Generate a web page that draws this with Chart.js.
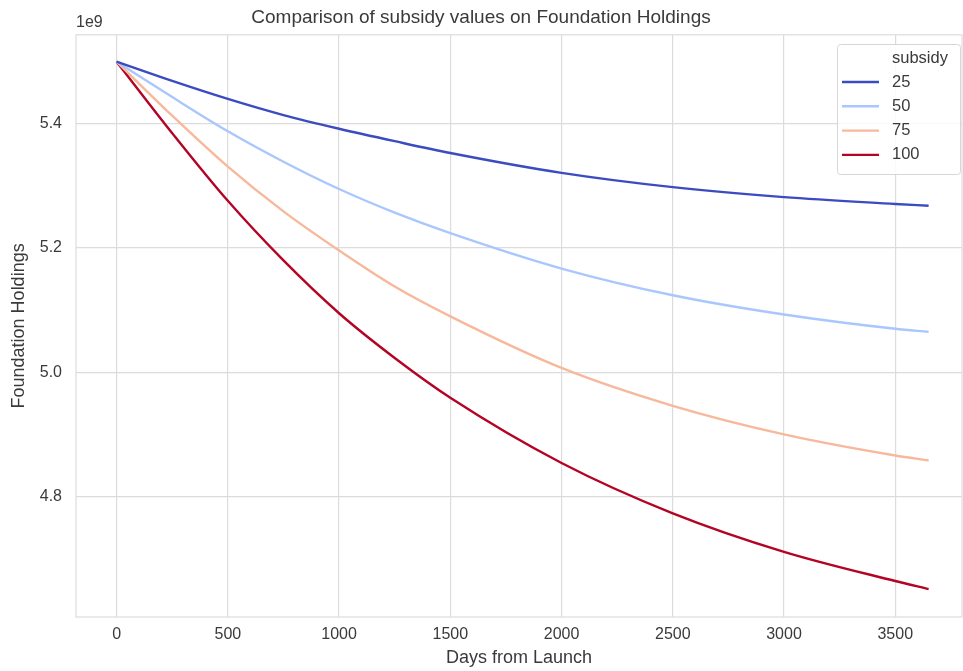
<!DOCTYPE html>
<html>
<head>
<meta charset="utf-8">
<script src="https://cdn.jsdelivr.net/npm/chart.js@4/dist/chart.umd.min.js"></script>
<style>
  html, body { margin: 0; padding: 0; background: #fff; }
  #wrap { width: 963px; height: 671px; }
</style>
</head>
<body>
<div id="wrap"><canvas id="holdings" width="963" height="671"></canvas></div>
<script>
// days from launch, holdings in units of 1e9
var days = [0, 250, 500, 750, 1000, 1250, 1500, 2000, 2500, 3000, 3500, 3650];
var subsidy25 = [5.500, 5.469, 5.440, 5.414, 5.392, 5.372, 5.353, 5.321, 5.298, 5.282, 5.271, 5.268];
var subsidy50 = [5.500, 5.443, 5.388, 5.339, 5.295, 5.257, 5.224, 5.167, 5.124, 5.093, 5.070, 5.065];
var subsidy75 = [5.500, 5.413, 5.331, 5.259, 5.196, 5.138, 5.090, 5.007, 4.946, 4.900, 4.866, 4.858];
var subsidy100 = [5.500, 5.385, 5.276, 5.180, 5.095, 5.023, 4.959, 4.854, 4.773, 4.711, 4.664, 4.651];
var seriesNames = ['25', '50', '75', '100'];
var seriesColors = ['#3b4cc0', '#aac7fd', '#f7b89c', '#b40426'];
var xTicks = [0, 500, 1000, 1500, 2000, 2500, 3000, 3500];
var yTicks = [4.8, 5.0, 5.2, 5.4];

var textColor = '#3a3a3a';
var gridColor = '#dcdcdc';
var fontFamily = '"Liberation Sans", Arial, sans-serif';

function toPoints(vals) {
	var pts = [];
	for (var i in days) {
		pts.push({x: days[i], y: vals[i]});
	}
	return pts;
}

var allSeries = [subsidy25, subsidy50, subsidy75, subsidy100];
var datasets = [];
for (var s = 0; s < allSeries.length; s++) {
	datasets.push({
		label: seriesNames[s],
		data: toPoints(allSeries[s]),
		borderColor: seriesColors[s],
		backgroundColor: seriesColors[s],
		borderWidth: 2.4,
		pointRadius: 0,
		cubicInterpolationMode: 'monotone',
		fill: false
	});
}

// frame, offset text and the legend box
var extras = {
	id: 'extras',
	afterDraw: function(chart) {
		var ctx = chart.ctx;
		var a = chart.chartArea;
		ctx.save();
		ctx.strokeStyle = gridColor;
		ctx.lineWidth = 1.2;
		ctx.strokeRect(a.left, a.top, a.right - a.left, a.bottom - a.top);

		ctx.fillStyle = textColor;
		ctx.font = '16px ' + fontFamily;
		ctx.textAlign = 'left';
		ctx.textBaseline = 'middle';
		ctx.fillText('1e9', a.left, 23);

		// legend
		var lx = 837, ly = 44, lw = 123, lh = 130;
		ctx.fillStyle = 'rgba(255,255,255,0.85)';
		ctx.strokeStyle = '#d6d6d6';
		ctx.lineWidth = 1;
		ctx.beginPath();
		ctx.roundRect(lx + 0.5, ly + 0.5, lw, lh, 3);
		ctx.fill();
		ctx.stroke();

		ctx.fillStyle = textColor;
		ctx.font = '16.5px ' + fontFamily;
		ctx.fillText('subsidy', 892, 58);
		for (var i = 0; i < seriesNames.length; i++) {
			var yy = 82 + i * 24.3;
			ctx.strokeStyle = seriesColors[i];
			ctx.lineWidth = 2.4;
			ctx.beginPath();
			ctx.moveTo(842, yy);
			ctx.lineTo(879, yy);
			ctx.stroke();
			ctx.fillStyle = textColor;
			ctx.fillText(seriesNames[i], 892, yy);
		}
		ctx.restore();
	}
};

var ctx = document.getElementById('holdings');
var chart = new Chart(ctx, {
	type: 'line',
	data: { datasets: datasets },
	options: {
		responsive: false,
		animation: false,
		layout: { padding: { left: 0, right: 1, top: 0, bottom: 0 } },
		plugins: {
			legend: { display: false },
			tooltip: { enabled: false },
			title: {
				display: true,
				text: 'Comparison of subsidy values on Foundation Holdings',
				color: textColor,
				font: { family: fontFamily, size: 19, weight: 'normal' },
				padding: { top: 6, bottom: 6 }
			}
		},
		scales: {
			x: {
				type: 'linear',
				min: -182.5,
				max: 3800,
				afterBuildTicks: function(scale) {
					scale.ticks = xTicks.map(function(v) { return {value: v}; });
				},
				afterFit: function(scale) { scale.height = 54; },
				grid: { color: gridColor, lineWidth: 1.2, drawTicks: false },
				border: { display: false },
				ticks: {
					color: textColor,
					padding: 8,
					maxRotation: 0,
					font: { family: fontFamily, size: 16 },
					callback: function(v) { return String(v); }
				},
				title: {
					display: true,
					text: 'Days from Launch',
					color: textColor,
					font: { family: fontFamily, size: 18 },
					padding: { top: 2, bottom: 2 }
				}
			},
			y: {
				type: 'linear',
				min: 4.606,
				max: 5.5433,
				afterBuildTicks: function(scale) {
					scale.ticks = yTicks.map(function(v) { return {value: v}; });
				},
				afterFit: function(scale) { scale.width = 76; },
				grid: { color: gridColor, lineWidth: 1.2, drawTicks: false },
				border: { display: false },
				ticks: {
					color: textColor,
					padding: 14,
					font: { family: fontFamily, size: 16 },
					callback: function(v) { return v.toFixed(1); }
				},
				title: {
					display: true,
					text: 'Foundation Holdings',
					color: textColor,
					font: { family: fontFamily, size: 18 },
					padding: { top: 8, bottom: 4 }
				}
			}
		}
	},
	plugins: [extras]
});
</script>
</body>
</html>
